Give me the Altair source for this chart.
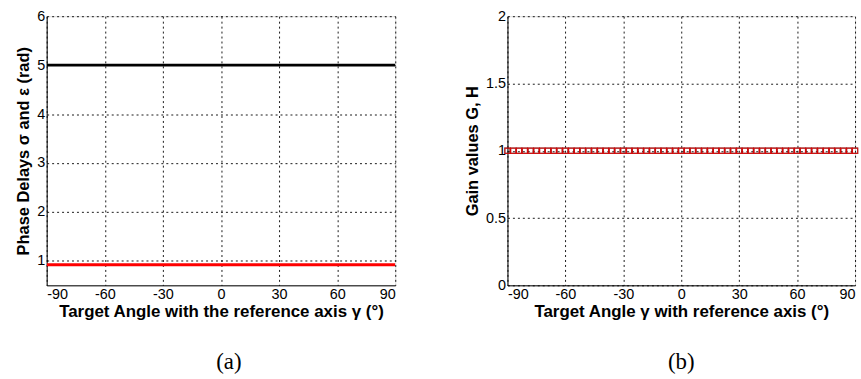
import altair as alt
import pandas as pd

# Target angle samples (degrees)
angles = [-90, -87, -84, -81, -78, -75, -72, -69, -66, -63, -60, -57, -54, -51, -48,
          -45, -42, -39, -36, -33, -30, -27, -24, -21, -18, -15, -12, -9, -6, -3,
          0, 3, 6, 9, 12, 15, 18, 21, 24, 27, 30, 33, 36, 39, 42, 45, 48, 51, 54,
          57, 60, 63, 66, 69, 72, 75, 78, 81, 84, 87, 90]

# Phase delays (rad): sigma and epsilon stay constant over the angle range
sigma_rad = [5.0] * len(angles)
epsilon_rad = [0.92] * len(angles)

# Gain values G and H
gain_g = [1.0] * len(angles)
gain_h = [1.0] * len(angles)

x_ticks = [-90, -60, -30, 0, 30, 60, 90]

SANS = "Liberation Sans"
SERIF = "Liberation Serif"

df_phase = pd.DataFrame({"angle": angles * 2,
                         "value": sigma_rad + epsilon_rad,
                         "series": ["sigma"] * len(angles) + ["epsilon"] * len(angles)})
df_gain = pd.DataFrame({"angle": angles * 2,
                        "value": gain_g + gain_h,
                        "series": ["G"] * len(angles) + ["H"] * len(angles)})

W, H = 351, 271

common_axis = dict(labelFont=SANS, labelFontSize=14.5, labelPadding=2,
                   labelExpr="datum.value", tickSize=0, domainColor="black",
                   grid=True, gridDash=[2, 3], gridColor="black", gridOpacity=0.9,
                   labelColor="black", titleColor="black", titleFont=SANS,
                   titleFontWeight="bold")


def x_axis(title):
    return alt.X("angle:Q",
                 scale=alt.Scale(domain=[-90, 90], nice=False, zero=False),
                 axis=alt.Axis(values=x_ticks, title=title, titleFontSize=17,
                               titlePadding=3, **common_axis))


def y_axis(title, domain, values):
    return alt.Y("value:Q",
                 scale=alt.Scale(domain=domain, nice=False, zero=False),
                 axis=alt.Axis(values=values, title=title, titleFontSize=16.5,
                               titlePadding=5, **common_axis))


phase = alt.Chart(df_phase).mark_line(strokeWidth=3, clip=True).encode(
    x=x_axis("Target Angle with the reference axis γ (°)"),
    y=y_axis("Phase Delays σ and ε (rad)", [0.5, 6], [1, 2, 3, 4, 5, 6]),
    color=alt.Color("series:N",
                    scale=alt.Scale(domain=["sigma", "epsilon"], range=["black", "#ff0000"]),
                    legend=None),
).properties(width=W, height=H,
             title=alt.TitleParams("(a)", orient="bottom", font=SERIF, fontSize=23,
                                   fontWeight="normal", color="black", offset=32, dx=8))

gain = alt.Chart(df_gain).mark_point(shape="square", size=28, filled=False,
                                     strokeWidth=1.2, clip=False).encode(
    x=x_axis("Target Angle γ with reference axis (°)"),
    y=y_axis("Gain values G, H", [0, 2], [0, 0.5, 1, 1.5, 2]),
    color=alt.Color("series:N",
                    scale=alt.Scale(domain=["G", "H"], range=["#ff0000", "#ff0000"]),
                    legend=None),
).properties(width=W - 1, height=H,
             title=alt.TitleParams("(b)", orient="bottom", font=SERIF, fontSize=23,
                                   fontWeight="normal", color="black", offset=32))

chart = alt.hconcat(phase, gain, spacing=68).configure_view(
    stroke="black", strokeWidth=1
).configure(background="white", padding={"left": 15, "top": 6, "right": 0, "bottom": 0})

chart.save("out.html", embed_options={"renderer": "svg", "actions": False})
